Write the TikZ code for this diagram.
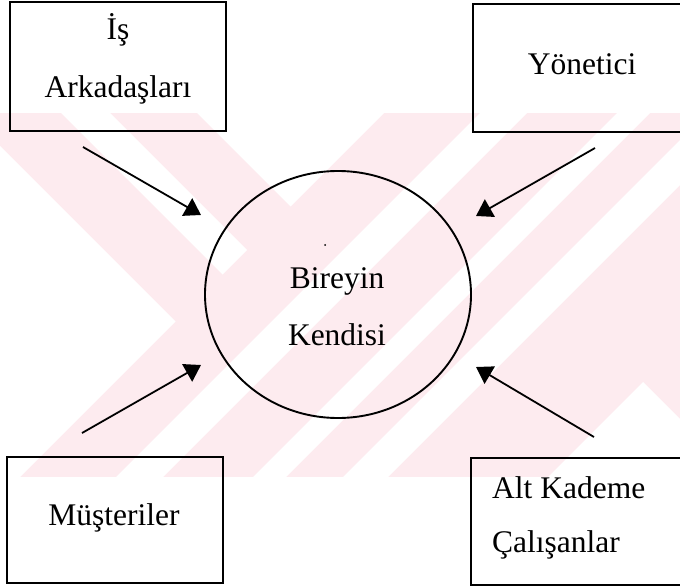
\documentclass[tikz,border=0pt]{standalone}
\usepackage{fontspec}
\setmainfont{Liberation Serif}
\usetikzlibrary{arrows.meta,shapes.geometric}
\definecolor{wmpink}{RGB}{253,235,239}
\begin{document}
\begin{tikzpicture}[x=1pt,y=-1pt,
  box/.style={draw, line width=2pt, rectangle, inner sep=0pt},
  lbl/.style={font=\fontsize{31.5}{36}\selectfont, inner sep=0pt, anchor=base},
  link/.style={line width=1.8pt, -{Triangle[length=16pt,width=20pt]}},
]
\useasboundingbox (0,0) rectangle (680,588);
\fill[white] (0,0) rectangle (680,588);

% background stripe band
\begin{scope}
  \clip (0,113) rectangle (680,477);
  \fill[wmpink] (0,113) rectangle (680,477);
  \fill[white] (-10,136) -- (175.5,321.5) -- (-10,507) -- cycle;
  \fill[white] (48,100) -- (97,100) -- (247,250) -- (222.5,274.5) -- cycle;
  \fill[white] (184,100) -- (290.5,206.5) -- (397,100) -- cycle;
  \foreach \a/\b in {593/640,730/763,820/865}
    \fill[white] (\a-100,100) -- (\b-100,100) -- (\b-490,490) -- (\a-490,490) -- cycle;
  \fill[white] (643,382) -- (535,490) -- (751,490) -- cycle;
\end{scope}

% boxes and the central ellipse
\node[box, minimum width=216pt, minimum height=129pt] (ia)  at (118,66.5) {};
\node[box, minimum width=211pt, minimum height=128pt] (yon) at (578.5,68) {};
\node[box, minimum width=216pt, minimum height=126pt] (mus) at (115,520) {};
\node[box, minimum width=213pt, minimum height=127pt] (alt) at (577.5,521.5) {};
\node[draw, ellipse, line width=1.9pt, minimum width=266pt, minimum height=247pt, inner sep=0pt] (self) at (338,294.5) {};
\fill (325,245) circle (1pt);

% labels
\node[lbl] (ia1) at (118,40) {İş};
\node[lbl] (ia2) at (118,98) {Arkadaşları};
\node[lbl] (yon1) at (582,75) {Yönetici};
\node[lbl] (self1) at (337,288) {Bireyin};
\node[lbl] (self2) at (337,345) {Kendisi};
\node[lbl] (mus1) at (114,525) {Müşteriler};
\node[lbl, anchor=base west] (alt1) at (492,498) {Alt Kademe};
\node[lbl, anchor=base west] (alt2) at (492,552) {Çalışanlar};

% arrows towards the centre
\coordinate (p1) at (83,147);  \coordinate (q1) at (201,215);
\coordinate (p2) at (595,148); \coordinate (q2) at (476,216);
\coordinate (p3) at (82,433);  \coordinate (q3) at (201,365);
\coordinate (p4) at (594,437); \coordinate (q4) at (476,367);
\draw[link] (p1) -- (q1);
\draw[link] (p2) -- (q2);
\draw[link] (p3) -- (q3);
\draw[link] (p4) -- (q4);
\end{tikzpicture}
\end{document}
